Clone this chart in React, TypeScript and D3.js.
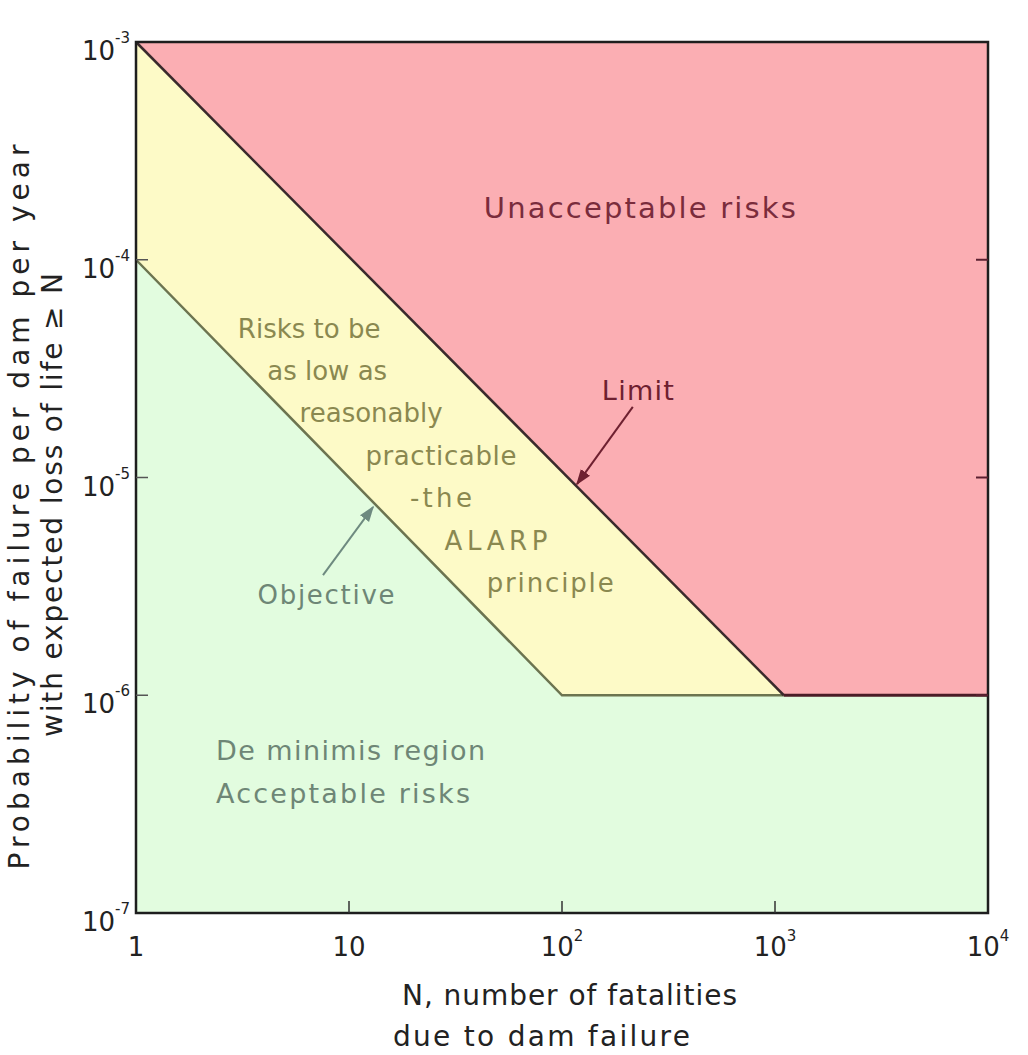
import React, { useEffect, useRef } from 'react';
import * as d3 from 'd3';

// decades on each axis
const xTicks = [1, 10, 100, 1000, 10000];
const xTickLabels = [['1', ''], ['10', ''], ['10', '2'], ['10', '3'], ['10', '4']];
const yTicks = [1e-3, 1e-4, 1e-5, 1e-6, 1e-7];
const yTickLabels = ['-3', '-4', '-5', '-6', '-7'];

// boundary lines (N, probability)
const limitLine = [[1, 1e-3], [1100, 1e-6], [10000, 1e-6]];
const objectiveLine = [[1, 1e-4], [100, 1e-6], [1100, 1e-6]];

const redZone = [[1, 1e-3], [10000, 1e-3], [10000, 1e-6], [1100, 1e-6]];
const yellowZone = [[1, 1e-3], [1100, 1e-6], [100, 1e-6], [1, 1e-4]];
const greenZone = [[1, 1e-4], [100, 1e-6], [10000, 1e-6], [10000, 1e-7], [1, 1e-7]];

const alarpLines = ['Risks to be', 'as low as', 'reasonably', 'practicable', '-the', 'ALARP', 'principle'];
const alarpN = [6.5, 7.9, 12.7, 27, 27, 49, 88];
const alarpP = [4.37e-5, 2.8e-5, 1.8e-5, 1.14e-5, 7.3e-6, 4.65e-6, 2.98e-6];
const alarpWidths = [0, 0, 0, 151, 62, 103, 127];

const deMinimisLines = ['De minimis region', 'Acceptable risks'];
const deMinimisP = [5.05e-7, 3.2e-7];
const deMinimisWidths = [269, 254];

const FONT = "'DejaVu Sans', sans-serif";

const App = () => {
    const ref = useRef(null);

    useEffect(() => {
        document.body.style.margin = '0';
        const svg = d3.select(ref.current);
        svg.selectAll('*').remove();

        const left = 136, right = 988, top = 42, bottom = 913;
        const x = d3.scaleLog().domain([1, 10000]).range([left, right]);
        const y = d3.scaleLog().domain([1e-7, 1e-3]).range([bottom, top]);

        const poly = d3.line().x(d => x(d[0])).y(d => y(d[1]));

        svg.append('path').attr('d', poly(greenZone) + 'Z').attr('fill', '#e2fcdf');
        svg.append('path').attr('d', poly(yellowZone) + 'Z').attr('fill', '#fdfac7');
        svg.append('path').attr('d', poly(redZone) + 'Z').attr('fill', '#fbaeb3');

        svg.append('path').attr('d', poly(objectiveLine))
            .attr('fill', 'none').attr('stroke', '#6c7450').attr('stroke-width', 2.5);
        svg.append('path').attr('d', poly(limitLine.slice(0, 2)))
            .attr('fill', 'none').attr('stroke', '#3a2a2c').attr('stroke-width', 2.5);
        svg.append('path').attr('d', poly(limitLine.slice(1)))
            .attr('fill', 'none').attr('stroke', '#4a1c26').attr('stroke-width', 3);

        // frame
        svg.append('rect')
            .attr('x', left).attr('y', top)
            .attr('width', right - left).attr('height', bottom - top)
            .attr('fill', 'none').attr('stroke', '#1e1e1e').attr('stroke-width', 2.5);

        // inward ticks
        const tl = 12;
        xTicks.slice(1, -1).forEach(t => {
            svg.append('line').attr('x1', x(t)).attr('x2', x(t)).attr('y1', bottom).attr('y2', bottom - tl)
                .attr('stroke', '#333').attr('stroke-width', 1.5);
        });
        yTicks.slice(1, -1).forEach(t => {
            svg.append('line').attr('x1', right).attr('x2', right - tl).attr('y1', y(t)).attr('y2', y(t))
                .attr('stroke', '#5a2030').attr('stroke-width', 2);
            svg.append('line').attr('x1', left).attr('x2', left + tl).attr('y1', y(t)).attr('y2', y(t))
                .attr('stroke', '#555').attr('stroke-width', 1.5);
        });

        // x tick labels
        xTicks.forEach((t, i) => {
            const g = svg.append('text')
                .attr('x', x(t)).attr('y', 956)
                .attr('text-anchor', 'middle')
                .attr('font-family', FONT).attr('font-size', 26).attr('fill', '#222');
            g.append('tspan').text(xTickLabels[i][0]);
            if (xTickLabels[i][1]) {
                g.append('tspan').attr('dy', -15).attr('font-size', 15).text(xTickLabels[i][1]);
            }
        });

        // y tick labels
        yTicks.forEach((t, i) => {
            const g = svg.append('text')
                .attr('x', 82).attr('y', y(t) + 18)
                .attr('font-family', FONT).attr('font-size', 26).attr('fill', '#222');
            g.append('tspan').text('10');
            g.append('tspan').attr('dy', -17).attr('font-size', 15).text(yTickLabels[i]);
        });

        // axis titles
        const title = (sel, s, len) => {
            sel.text(s);
            if (len) sel.attr('textLength', len).attr('lengthAdjust', 'spacing');
            return sel;
        };
        const xt = svg.append('g')
            .attr('font-family', FONT).attr('font-size', 28).attr('fill', '#222');
        title(xt.append('text').attr('x', 402).attr('y', 1005), 'N, number of fatalities', 335);
        title(xt.append('text').attr('x', 393).attr('y', 1046), 'due to dam failure', 297);

        const yt = svg.append('g')
            .attr('transform', 'translate(0,507) rotate(-90)')
            .attr('text-anchor', 'middle')
            .attr('font-family', FONT).attr('font-size', 28).attr('fill', '#222');
        title(yt.append('text').attr('x', 0).attr('y', 29), 'Probability of failure per dam per year', 725);
        title(yt.append('text').attr('x', 2).attr('y', 62), 'with expected loss of life \u2265 N', 464);

        // region labels
        title(svg.append('text')
            .attr('x', x(232)).attr('y', y(1.56e-4))
            .attr('text-anchor', 'middle')
            .attr('font-family', FONT).attr('font-size', 29).attr('fill', '#7a2c3c'),
            'Unacceptable risks', 312);

        alarpLines.forEach((s, i) => {
            title(svg.append('text')
                .attr('x', x(alarpN[i])).attr('y', y(alarpP[i]))
                .attr('text-anchor', 'middle')
                .attr('font-family', FONT).attr('font-size', 26).attr('fill', '#8a8850'),
                s, alarpWidths[i]);
        });

        deMinimisLines.forEach((s, i) => {
            title(svg.append('text')
                .attr('x', x(2.375)).attr('y', y(deMinimisP[i]))
                .attr('font-family', FONT).attr('font-size', 27).attr('fill', '#6e8676'),
                s, deMinimisWidths[i]);
        });

        // arrows
        const defs = svg.append('defs');
        const marker = (id, color) => defs.append('marker')
            .attr('id', id).attr('viewBox', '0 0 10 10')
            .attr('refX', 9).attr('refY', 5)
            .attr('markerWidth', 16).attr('markerHeight', 16)
            .attr('markerUnits', 'userSpaceOnUse')
            .attr('orient', 'auto')
            .append('path').attr('d', 'M0,1.5 L10,5 L0,8.5 Z').attr('fill', color);
        marker('arrLimit', '#6e2030');
        marker('arrObj', '#6e8a80');

        title(svg.append('text')
            .attr('x', x(227)).attr('y', y(2.27e-5))
            .attr('text-anchor', 'middle')
            .attr('font-family', FONT).attr('font-size', 27).attr('fill', '#6e2030'),
            'Limit', 72);
        svg.append('line')
            .attr('x1', x(215)).attr('y1', y(2.11e-5))
            .attr('x2', x(117.6)).attr('y2', y(9.33e-6))
            .attr('stroke', '#6e2030').attr('stroke-width', 2)
            .attr('marker-end', 'url(#arrLimit)');

        title(svg.append('text')
            .attr('x', x(7.8)).attr('y', y(2.62e-6))
            .attr('text-anchor', 'middle')
            .attr('font-family', FONT).attr('font-size', 26).attr('fill', '#6e8676'),
            'Objective', 137);
        svg.append('line')
            .attr('x1', x(7.55)).attr('y1', y(3.56e-6))
            .attr('x2', x(12.97)).attr('y2', y(7.32e-6))
            .attr('stroke', '#6e8a80').attr('stroke-width', 2)
            .attr('marker-end', 'url(#arrObj)');
    }, []);

    return <svg ref={ref} width={1028} height={1055} style={{ display: 'block', background: '#fff' }} />;
};

export default App;
